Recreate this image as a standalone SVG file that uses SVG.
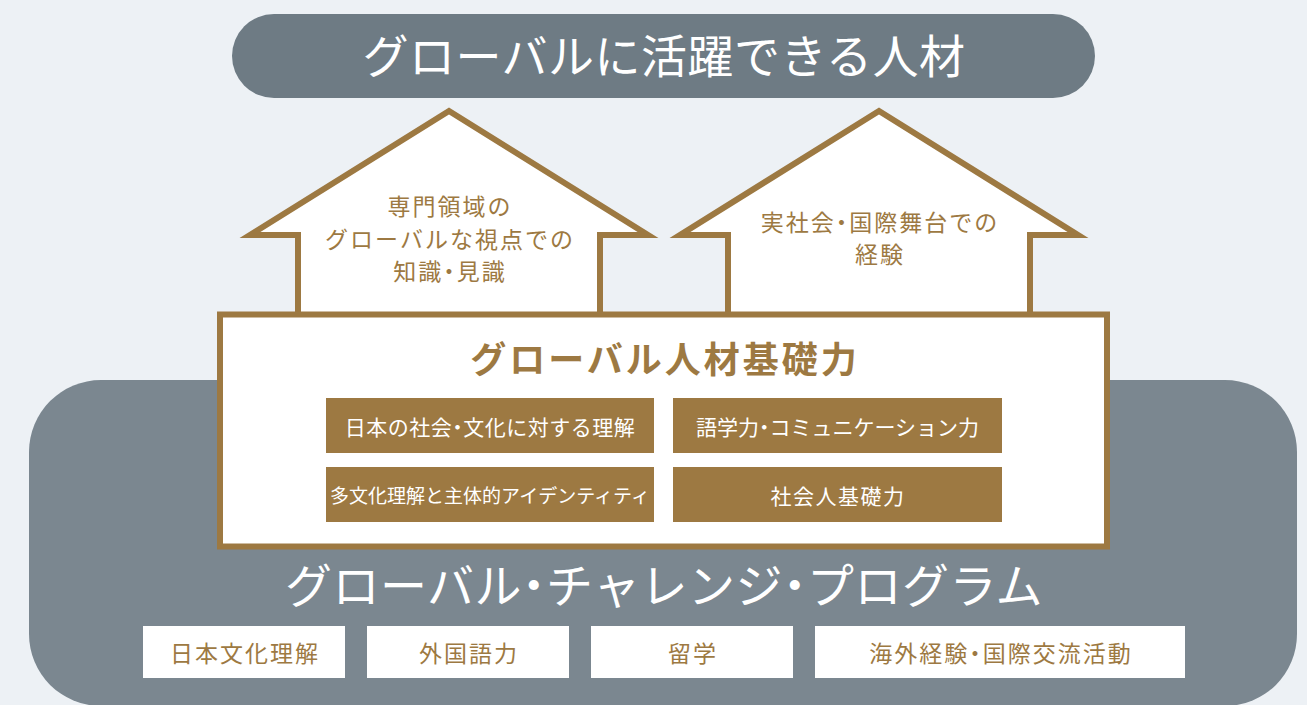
<svg xmlns="http://www.w3.org/2000/svg" width="1307" height="705" viewBox="0 0 1307 705">
<style>
.t{font-family:"Noto Sans CJK JP","Noto Sans",sans-serif;text-anchor:middle;dominant-baseline:central}
.w{fill:#ffffff}
.g{fill:#9d7942}
.d{font-feature-settings:"halt"}
.house{fill:#ffffff;stroke:#9d7942;stroke-width:6;stroke-linejoin:miter}
.hs{font-size:23px;letter-spacing:2px}
.bs{font-size:23px;letter-spacing:2px}
.gold{fill:#9d7942}
.wb{fill:#ffffff}
</style>
<rect x="0" y="0" width="1307" height="705" fill="#edf1f5"/>
<g id="program-bg">
<rect x="29" y="380" width="1268" height="326" rx="72" fill="#7b8790"/>
</g>
<g id="goal">
<rect x="232" y="14" width="863" height="84" rx="42" fill="#6e7b84"/>
<text class="t w" x="664" y="53" font-size="46" letter-spacing="0.5">グローバルに活躍できる人材</text>
</g>
<g id="house-left">
<polygon class="house" points="449,111 250,235 298,235 298,316 600,316 600,235 648,235"/>
<text class="t g hs" x="450" y="205">専門領域の</text>
<text class="t g hs" x="450" y="238">グローバルな視点での</text>
<text class="t g hs" x="450" y="270">知識<tspan class="d">・</tspan>見識</text>
</g>
<g id="house-right">
<polygon class="house" points="879,111 680,235 728,235 728,316 1030,316 1030,235 1078,235"/>
<text class="t g hs" x="880" y="221">実社会<tspan class="d">・</tspan>国際舞台での</text>
<text class="t g hs" x="880" y="253">経験</text>
</g>
<g id="foundation">
<rect x="220" y="314.5" width="887" height="232" fill="#ffffff" stroke="#9d7942" stroke-width="6"/>
<text class="t g" x="665" y="357" font-size="36" font-weight="700" letter-spacing="3">グローバル人材基礎力</text>
</g>
<g id="skill-1">
<rect class="gold" x="326" y="398" width="328" height="55"/>
<text class="t w" x="490" y="425.5" font-size="21" letter-spacing="0.5">日本の社会<tspan class="d">・</tspan>文化に対する理解</text>
</g>
<g id="skill-2">
<rect class="gold" x="673" y="398" width="329" height="55"/>
<text class="t w" x="837.5" y="425.5" font-size="21">語学力<tspan class="d">・</tspan>コミュニケーション力</text>
</g>
<g id="skill-3">
<rect class="gold" x="326" y="467" width="328" height="55"/>
<text class="t w" x="490" y="494.5" font-size="19">多文化理解と主体的アイデンティティ</text>
</g>
<g id="skill-4">
<rect class="gold" x="673" y="467" width="329" height="55"/>
<text class="t w" x="838" y="494.5" font-size="21" letter-spacing="1.5">社会人基礎力</text>
</g>
<g id="program-title">
<text class="t w" x="664" y="582" font-size="47" letter-spacing="0.5">グローバル<tspan class="d">・</tspan>チャレンジ<tspan class="d">・</tspan>プログラム</text>
</g>
<g id="prog-1">
<rect class="wb" x="143" y="626" width="202" height="52"/>
<text class="t g bs" x="245" y="652">日本文化理解</text>
</g>
<g id="prog-2">
<rect class="wb" x="367" y="626" width="202" height="52"/>
<text class="t g bs" x="469" y="652">外国語力</text>
</g>
<g id="prog-3">
<rect class="wb" x="591" y="626" width="202" height="52"/>
<text class="t g bs" x="693" y="652">留学</text>
</g>
<g id="prog-4">
<rect class="wb" x="815" y="626" width="370" height="52"/>
<text class="t g bs" x="1001" y="652">海外経験<tspan class="d">・</tspan>国際交流活動</text>
</g>
<g id="connectors"></g>
</svg>
